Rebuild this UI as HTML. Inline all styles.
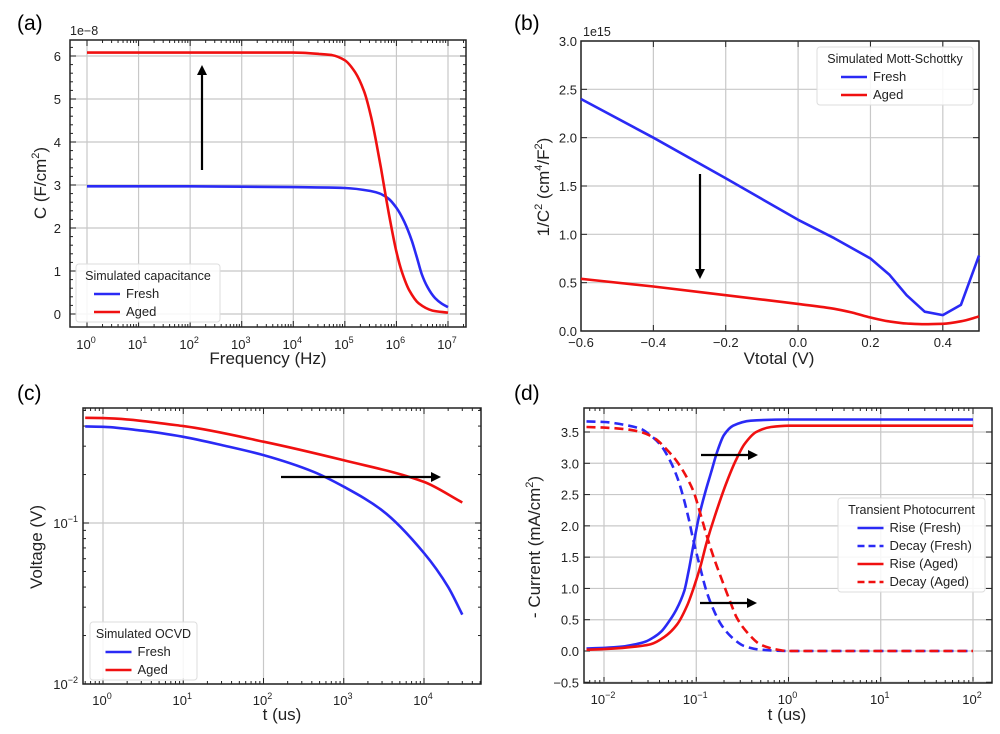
<!DOCTYPE html>
<html><head><meta charset="utf-8">
<style>
html,body{margin:0;padding:0;background:#fff;}
svg{display:block;font-family:"Liberation Sans","DejaVu Sans",sans-serif;}
</style></head>
<body>
<svg id="fig" width="1000" height="734" viewBox="0 0 1000 734" xmlns="http://www.w3.org/2000/svg"></svg>
<script>
// ---- Panel (a) data: capacitance vs log10(frequency) ----
const aLogFA = [0,1,2,3,4,4.5,4.75,5,5.2,5.37,5.5,5.6,5.7,5.8,5.9,6.0,6.1,6.25,6.43,6.7,7];
const aAged = [6.08,6.08,6.08,6.08,6.08,6.05,6.02,5.9,5.62,5.19,4.63,4.05,3.39,2.69,2.03,1.45,1.0,0.55,0.25,0.08,0.03];
const aLogFF = [0,1,2,3,4,5,5.5,5.68,5.85,6.0,6.15,6.3,6.4,6.49,6.6,6.75,6.88,7];
const aFresh = [2.97,2.97,2.97,2.96,2.95,2.93,2.86,2.8,2.68,2.47,2.15,1.7,1.3,0.93,0.63,0.37,0.24,0.16];
const aYTicks = [0,1,2,3,4,5,6];
const aXTicks = [0,1,2,3,4,5,6,7];
// ---- Panel (b) data: Mott-Schottky ----
const bV = [-0.6,-0.4,-0.2,0,0.1,0.2,0.253,0.3,0.35,0.4,0.45,0.5];
const bFresh = [2.4,2.0,1.58,1.15,0.96,0.75,0.58,0.37,0.2,0.165,0.27,0.78];
const bVA = [-0.6,-0.4,-0.2,0,0.1,0.15,0.2,0.25,0.3,0.35,0.4,0.45,0.5];
const bAged = [0.54,0.46,0.37,0.28,0.23,0.19,0.14,0.1,0.078,0.07,0.075,0.1,0.15];
const bYTicks = [0,0.5,1.0,1.5,2.0,2.5,3.0];
const bXTicks = [-0.6,-0.4,-0.2,0,0.2,0.4];
// ---- Panel (c) data: OCVD ----
const cT = [0.6,1,3,10,30,100,420,1000,3000,1e4,2e4,3e4];
const cFresh = [0.398,0.396,0.375,0.343,0.305,0.264,0.208,0.168,0.12,0.065,0.04,0.027];
const cTA = [0.6,1,10,100,1000,1e4,3e4];
const cAged = [0.45,0.448,0.40,0.32,0.245,0.18,0.134];
const cXTicks = [0,1,2,3,4];
const cYTicks = [-2,-1];
// ---- Panel (d) data: transient photocurrent vs log10(t) ----
const dLogT1 = [-2.19,-2,-1.8,-1.68,-1.55,-1.46,-1.38,-1.32,-1.22,-1.13,-1.08,-1.03,-0.97,-0.9,-0.84,-0.77,-0.7,-0.6,-0.41,0,2];
const dRiseFresh = [0.04,0.05,0.07,0.1,0.15,0.22,0.31,0.42,0.65,0.96,1.3,1.7,2.15,2.55,2.85,3.2,3.45,3.6,3.68,3.7,3.7];
const dLogT2 = [-2.19,-2,-1.8,-1.6,-1.49,-1.35,-1.21,-1.1,-1.03,-0.95,-0.89,-0.8,-0.67,-0.57,-0.48,-0.35,-0.19,0,2];
const dRiseAged = [0.02,0.03,0.05,0.08,0.11,0.22,0.42,0.72,1.0,1.38,1.72,2.15,2.7,3.05,3.3,3.5,3.58,3.6,3.6];
const dLogT3 = [-2.19,-2,-1.8,-1.6,-1.5,-1.38,-1.28,-1.2,-1.13,-1.08,-1.03,-0.96,-0.89,-0.81,-0.73,-0.6,-0.48,-0.3,0,2];
const dDecayFresh = [3.67,3.66,3.62,3.55,3.45,3.28,3.03,2.75,2.4,2.1,1.76,1.35,0.96,0.65,0.42,0.2,0.08,0.02,0,0];
const dLogT4 = [-2.19,-2,-1.8,-1.6,-1.45,-1.32,-1.21,-1.12,-1.03,-0.96,-0.89,-0.8,-0.7,-0.63,-0.56,-0.45,-0.3,-0.15,0,2];
const dDecayAged = [3.58,3.57,3.55,3.5,3.4,3.22,3.03,2.82,2.55,2.22,1.86,1.45,1.05,0.78,0.53,0.3,0.1,0.03,0,0];
const dYTicks = [-0.5,0,0.5,1.0,1.5,2.0,2.5,3.0,3.5];
const dXTicks = [-2,-1,0,1,2];

const NS="http://www.w3.org/2000/svg";
const svg=document.getElementById('fig');
function mk(tag,attrs,parent){const e=document.createElementNS(NS,tag);for(const k in attrs)e.setAttribute(k,attrs[k]);(parent||svg).appendChild(e);return e;}
function linS(d0,d1,p0,p1){return v=>p0+(v-d0)/(d1-d0)*(p1-p0);}
function logS(d0,d1,p0,p1){return v=>p0+(Math.log10(v)-d0)/(d1-d0)*(p1-p0);}
function monotone(pts){
 const n=pts.length,dx=[],m=[],t=[];
 for(let i=0;i<n-1;i++){dx[i]=pts[i+1][0]-pts[i][0];m[i]=(pts[i+1][1]-pts[i][1])/dx[i];}
 t[0]=m[0];t[n-1]=m[n-2];
 for(let i=1;i<n-1;i++){if(m[i-1]*m[i]<=0)t[i]=0;else{const w1=2*dx[i]+dx[i-1],w2=dx[i]+2*dx[i-1];t[i]=(w1+w2)/(w1/m[i-1]+w2/m[i]);}}
 let d='M'+pts[0][0].toFixed(1)+','+pts[0][1].toFixed(1);
 for(let i=0;i<n-1;i++){const h=dx[i]/3;
  d+=' C'+(pts[i][0]+h).toFixed(1)+','+(pts[i][1]+t[i]*h).toFixed(1)+' '+(pts[i+1][0]-h).toFixed(1)+','+(pts[i+1][1]-t[i+1]*h).toFixed(1)+' '+pts[i+1][0].toFixed(1)+','+pts[i+1][1].toFixed(1);}
 return d;}
function series(g,xs,ys,sx,sy,color,dash,name,linear){
 const pts=xs.map((x,i)=>[sx(x),sy(ys[i])]);
 const d=linear?'M'+pts.map(p=>p[0].toFixed(1)+','+p[1].toFixed(1)).join(' L'):monotone(pts);
 const p=mk('path',{d:d,fill:'none',stroke:color,'stroke-width':2.6,'stroke-dasharray':dash||'none','stroke-linejoin':'round'},g);
 
 
}
function logLabel(g,x,y,exp,anchor){
 const t=mk('text',{x:x,y:y,'font-size':13,fill:'#222','text-anchor':anchor||'middle'},g);
 t.appendChild(document.createTextNode('10'));
 const s=mk('tspan',{'font-size':9,dy:-6},t);s.textContent=(exp<0?'\u2212':'')+Math.abs(exp);
 return t;}
function frame(g,L,T,R,B){mk('rect',{x:L,y:T,width:R-L,height:B-T,fill:'none',stroke:'#222','stroke-width':1.5},g);}
function grid(g,x1,y1,x2,y2){mk('line',{x1:x1,y1:y1,x2:x2,y2:y2,stroke:'#c8c8c8','stroke-width':1.2},g);}
function tick(g,x1,y1,x2,y2){mk('line',{x1:x1,y1:y1,x2:x2,y2:y2,stroke:'#222','stroke-width':1},g);}
function arrow(g,x1,y1,x2,y2,name){
 const a=mk('g',{},g);
 const dx=x2-x1,dy=y2-y1,L=Math.hypot(dx,dy),ux=dx/L,uy=dy/L;
 mk('line',{x1:x1,y1:y1,x2:x2-ux*8,y2:y2-uy*8,stroke:'#000','stroke-width':2.2},a);
 mk('polygon',{points:`${x2},${y2} ${x2-ux*10-uy*5},${y2-uy*10+ux*5} ${x2-ux*10+uy*5},${y2-uy*10-ux*5}`,fill:'#000'},a);}
function legend(g,x,y,w,title,items,name){
 const lg=mk('g',{},g);
 const h=22+items.length*18;
 mk('rect',{x:x,y:y,width:w,height:h,rx:3,fill:'rgba(255,255,255,0.85)',stroke:'#ddd','stroke-width':1},lg);
 const tt=mk('text',{x:x+w/2,y:y+16,'font-size':12.5,'text-anchor':'middle',fill:'#222'},lg);tt.textContent=title;
 items.forEach((it,i)=>{const yy=y+34+i*18;
  mk('line',{x1:x+w/2-62+(w>140?8:24),y1:yy-4,x2:x+w/2-36+(w>140?8:24),y2:yy-4,stroke:it[1],'stroke-width':2.6,'stroke-dasharray':it[2]||'none'},lg);
  const t=mk('text',{x:x+w/2-30+(w>140?8:24),y:yy,'font-size':13,fill:'#222'},lg);t.textContent=it[0];});}
function panelLabel(x,y,s,name){const t=mk('text',{x:x,y:y,'font-size':21,fill:'#000'});t.textContent=s;}
function yTitle(g,x,y,parts,name){const t=mk('text',{transform:`translate(${x},${y}) rotate(-90)`,'font-size':17,'text-anchor':'middle',fill:'#222'},g);
 parts.forEach(p=>{const s=mk('tspan',p[1]?{'font-size':11,dy:-7}:{dy:p[2]||0},t);s.textContent=p[0];});
 }
function xTitle(g,x,y,s,name){const t=mk('text',{x:x,y:y,'font-size':17,'text-anchor':'middle',fill:'#222'},g);t.textContent=s;}
function logMinor(g,sx,d0,d1,L,R,T,B){for(let e=Math.floor(d0);e<=Math.ceil(d1);e++)for(let m=2;m<10;m++){const x=sx(m*Math.pow(10,e));if(x>L&&x<R){tick(g,x,B,x,B-3);tick(g,x,T,x,T+3);}}}

// ===== Panel (a) =====
(function(){
 const g=mk('g',{});
 const L=70,R=466,T=40,B=327;
 const sx=logS(0,7,87,448), sy=linS(0,6,314,56), sxl=linS(0,7,87,448);
 aXTicks.forEach(e=>{const x=sx(Math.pow(10,e));grid(g,x,T,x,B);tick(g,x,B,x,B-6);tick(g,x,T,x,T+6);logLabel(g,x-1,B+22,e);});
 aYTicks.forEach(v=>{const y=sy(v);grid(g,L,y,R,y);tick(g,L,y,L+6,y);tick(g,R,y,R-6,y);const t=mk('text',{x:L-9,y:y+5,'font-size':13,'text-anchor':'end',fill:'#222'},g);t.textContent=v;});
 logMinor(g,sx,0,7,L,R,T,B);
 for(let v=0.2;v<6.6;v+=0.2){const y=sy(v);if(y>T){tick(g,L,y,L+3,y);tick(g,R,y,R-3,y);}}
 frame(g,L,T,R,B);
 const m=mk('text',{x:L,y:T-5,'font-size':12.5,fill:'#222'},g);m.textContent='1e\u22128';
 series(g,aLogFF,aFresh,sxl,sy,'#2a2af5',null,'line-fresh-a');
 series(g,aLogFA,aAged,sxl,sy,'#f01010',null,'line-aged-a');
 arrow(g,202,170,202,65,'arrow-up-a');
 legend(g,76,264,144,'Simulated capacitance',[['Fresh','#2a2af5'],['Aged','#f01010']],'legend-a');
 yTitle(g,46,183,[['C (F/cm'],['2',1],[')',0,7]],'y-axis-title-a');
 xTitle(g,268,364,'Frequency (Hz)','x-axis-title-a');
})();
panelLabel(17,30,'(a)','panel-label-a');

// ===== Panel (b) =====
(function(){
 const g=mk('g',{});
 const L=581,R=979,T=41,B=331;
 const sx=linS(-0.6,0.5,L,R), sy=linS(0,3,B,T);
 bXTicks.forEach(v=>{const x=sx(v);grid(g,x,T,x,B);tick(g,x,B,x,B-6);tick(g,x,T,x,T+6);const t=mk('text',{x:x,y:B+16,'font-size':13,'text-anchor':'middle',fill:'#222'},g);t.textContent=(v<0?'\u2212':'')+Math.abs(v).toFixed(1);});
 bYTicks.forEach(v=>{const y=sy(v);grid(g,L,y,R,y);tick(g,L,y,L+6,y);tick(g,R,y,R-6,y);const t=mk('text',{x:L-4,y:y+5,'font-size':13,'text-anchor':'end',fill:'#222'},g);t.textContent=v.toFixed(1);});
 frame(g,L,T,R,B);
 const m=mk('text',{x:L+2,y:T-5,'font-size':12.5,fill:'#222'},g);m.textContent='1e15';
 series(g,bV,bFresh,sx,sy,'#2a2af5',null,'line-fresh-b',true);
 series(g,bVA,bAged,sx,sy,'#f01010',null,'line-aged-b');
 arrow(g,700,174,700,279,'arrow-down-b');
 legend(g,817,47,156,'Simulated Mott-Schottky',[['Fresh','#2a2af5'],['Aged','#f01010']],'legend-b');
 yTitle(g,549,187,[['1/C'],['2',1],[' (cm',0,7],['4',1],['/F',0,7],['2',1],[')',0,7]],'y-axis-title-b');
 xTitle(g,779,364,'Vtotal (V)','x-axis-title-b');
})();
panelLabel(514,30,'(b)','panel-label-b');

// ===== Panel (c) =====
(function(){
 const g=mk('g',{});
 const L=83,R=481,T=408,B=684;
 const sx=logS(0,4,103,424), sy=logS(-2,-1,684,523);
 cXTicks.forEach(e=>{const x=sx(Math.pow(10,e));grid(g,x,T,x,B);tick(g,x,B,x,B-6);tick(g,x,T,x,T+6);logLabel(g,x-1,B+21,e);});
 cYTicks.forEach(e=>{const y=sy(Math.pow(10,e));grid(g,L,y,R,y);tick(g,L,y,L+6,y);tick(g,R,y,R-6,y);logLabel(g,L-5,y+5,e,'end');});
 logMinor(g,sx,-1,5,L,R,T,B);
 for(let e=-2;e<=0;e++)for(let mm=2;mm<10;mm++){const y=sy(mm*Math.pow(10,e));if(y>T&&y<B){tick(g,L,y,L+3,y);tick(g,R,y,R-3,y);}}
 frame(g,L,T,R,B);
 // plot in log-log pixel space for smoothness
 const lx=linS(0,4,103,424), ly=linS(-2,-1,684,523);
 series(g,cT.map(Math.log10),cFresh.map(Math.log10),lx,ly,'#2a2af5',null,'line-fresh-c');
 series(g,cTA.map(Math.log10),cAged.map(Math.log10),lx,ly,'#f01010',null,'line-aged-c');
 arrow(g,281,477,441,477,'arrow-right-c');
 legend(g,90,622,107,'Simulated OCVD',[['Fresh','#2a2af5'],['Aged','#f01010']],'legend-c');
 yTitle(g,42,547,[['Voltage (V)']],'y-axis-title-c');
 xTitle(g,282,720,'t (us)','x-axis-title-c');
})();
panelLabel(17,400,'(c)','panel-label-c');

// ===== Panel (d) =====
(function(){
 const g=mk('g',{});
 const L=584,R=992,T=408,B=683;
 const sx=logS(-2,2,604,973), sy=linS(0,3.5,651,432), sxl=linS(-2,2,604,973);
 dXTicks.forEach(e=>{const x=sx(Math.pow(10,e));grid(g,x,T,x,B);tick(g,x,B,x,B-6);tick(g,x,T,x,T+6);logLabel(g,x-1,B+21,e);});
 dYTicks.forEach(v=>{const y=sy(v);grid(g,L,y,R,y);tick(g,L,y,L+6,y);tick(g,R,y,R-6,y);const t=mk('text',{x:L-5,y:y+5,'font-size':13,'text-anchor':'end',fill:'#222'},g);t.textContent=(v<0?'\u2212':'')+Math.abs(v).toFixed(1);});
 logMinor(g,sx,-3,2,L,R,T,B);
 frame(g,L,T,R,B);
 series(g,dLogT1,dRiseFresh,sxl,sy,'#2a2af5',null,'line-rise-fresh');
 series(g,dLogT3,dDecayFresh,sxl,sy,'#2a2af5','9,5','line-decay-fresh');
 series(g,dLogT2,dRiseAged,sxl,sy,'#f01010',null,'line-rise-aged');
 series(g,dLogT4,dDecayAged,sxl,sy,'#f01010','9,5','line-decay-aged');
 arrow(g,701,455,758,455,'arrow-rise-d');
 arrow(g,700,603,757,603,'arrow-decay-d');
 legend(g,838,498,147,'Transient Photocurrent',[['Rise (Fresh)','#2a2af5'],['Decay (Fresh)','#2a2af5','7,4'],['Rise (Aged)','#f01010'],['Decay (Aged)','#f01010','7,4']],'legend-d');
 yTitle(g,540,547,[['- Current (mA/cm'],['2',1],[')',0,7]],'y-axis-title-d');
 xTitle(g,787,720,'t (us)','x-axis-title-d');
})();
panelLabel(514,400,'(d)','panel-label-d');
</script>
</body></html>
